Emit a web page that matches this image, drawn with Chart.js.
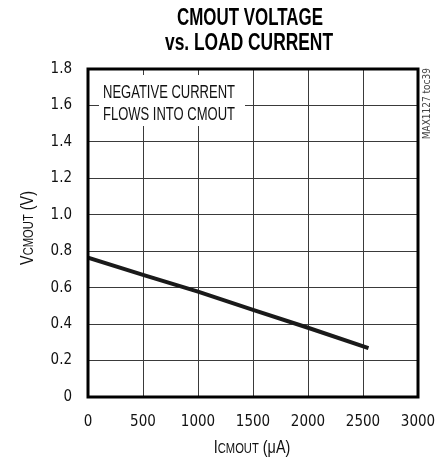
<!DOCTYPE html>
<html>
<head>
<meta charset="utf-8">
<script src="https://cdn.jsdelivr.net/npm/chart.js@4"></script>
<style>
  html, body { margin: 0; padding: 0; background: #fff; }
  #wrap { width: 447px; height: 458px; }
</style>
</head>
<body>
<div id="wrap"><canvas id="myChart" width="447" height="458"></canvas></div>
<script>
// load current (uA) and CMOUT voltage (V)
const loadCurrent = [0, 500, 1000, 1500, 2000, 2550];
const cmoutVolts = [0.765, 0.67, 0.578, 0.478, 0.38, 0.268];
const titleLines = ["CMOUT VOLTAGE", "vs. LOAD CURRENT"];
const noteLines = ["NEGATIVE CURRENT", "FLOWS INTO CMOUT"];

const SANS = "'Liberation Sans', Arial, sans-serif";
const COND = "'DejaVu Sans Condensed', 'Liberation Sans', sans-serif";
const SQUEEZE = 0.8;   // fake a narrow face by squashing x

// squashed text centred on x
let narrowText = function(ctx, text, x, y, font, width){
    ctx.font = font;
    let w = ctx.measureText(text).width;
    let sx = width ? width / w : SQUEEZE;
    ctx.save();
    ctx.translate(x, y);
    ctx.scale(sx, 1);
    ctx.textAlign = "center";
    ctx.textBaseline = "alphabetic";
    ctx.fillText(text, 0, 0);
    ctx.restore();
};

// run of text pieces of different sizes, squashed, centred on x
let drawPieces = function(ctx, pieces, x, y){
    let total = 0;
    pieces.forEach(p => { ctx.font = p.size + "px " + SANS; total += ctx.measureText(p.text).width; });
    ctx.save();
    ctx.translate(x, y);
    ctx.scale(SQUEEZE, 1);
    let cx = -total / 2;
    ctx.textAlign = "left";
    ctx.textBaseline = "alphabetic";
    pieces.forEach(p => {
        ctx.font = p.size + "px " + SANS;
        ctx.fillText(p.text, cx, 0);
        cx += ctx.measureText(p.text).width;
    });
    ctx.restore();
};

const decor = {
    id: "decor",
    beforeDatasetsDraw(chart){
        const ctx = chart.ctx;
        // white box behind the note
        ctx.save();
        ctx.fillStyle = "#fff";
        ctx.fillRect(99, 75, 146, 51);
        ctx.fillStyle = "#111";
        narrowText(ctx, noteLines[0], 169, 98, "18px " + SANS, 132);
        narrowText(ctx, noteLines[1], 169, 120, "18px " + SANS, 132);
        ctx.restore();
    },
    afterDraw(chart){
        const ctx = chart.ctx;
        const a = chart.chartArea;
        ctx.save();
        // heavy frame
        ctx.strokeStyle = "#000";
        ctx.lineWidth = 3;
        ctx.strokeRect(a.left, a.top, a.right - a.left, a.bottom - a.top);

        // title
        ctx.fillStyle = "#000";
        narrowText(ctx, titleLines[0], 250, 25, "bold 23px " + SANS, 146);
        narrowText(ctx, titleLines[1], 249, 50, "bold 23px " + SANS, 168);

        // axis titles with small-caps subscripts
        ctx.fillStyle = "#111";
        drawPieces(ctx, [{text: "I", size: 18}, {text: "CMOUT", size: 14}, {text: " (\u03bcA)", size: 18}], 252, 453);
        ctx.save();
        ctx.translate(33, 228);
        ctx.rotate(-Math.PI / 2);
        drawPieces(ctx, [{text: "V", size: 18}, {text: "CMOUT", size: 14}, {text: " (V)", size: 18}], 0, 0);
        ctx.restore();

        // side tag
        ctx.save();
        ctx.translate(430, 68);
        ctx.rotate(-Math.PI / 2);
        ctx.fillStyle = "#444";
        ctx.font = "10px " + COND;
        ctx.textAlign = "right";
        ctx.fillText("MAX1127 toc39", 0, 0);
        ctx.restore();
        ctx.restore();
    }
};

let ctx = document.getElementById('myChart').getContext('2d');
let chart = new Chart(ctx, {
    type: 'line',
    data: {
        datasets: [{
            data: loadCurrent.map((x, k) => ({x: x, y: cmoutVolts[k]})),
            borderColor: '#1a1a1a',
            borderWidth: 4,
            pointRadius: 0,
            tension: 0
        }]
    },
    options: {
        responsive: false,
        animation: false,
        layout: {padding: {top: 69, right: 29, left: 0, bottom: 0}},
        plugins: {legend: {display: false}, tooltip: {enabled: false}},
        scales: {
            x: {
                type: 'linear', min: 0, max: 3000,
                afterFit: s => { s.height = 61; s.paddingLeft = 0; s.paddingRight = 0; },
                border: {display: false},
                grid: {color: '#3a3a3a', lineWidth: 1, drawTicks: false},
                ticks: {
                    stepSize: 500, padding: 16, color: '#111', font: {family: COND, size: 15}, maxRotation: 0,
                    callback: v => String(v)
                }
            },
            y: {
                min: 0, max: 1.8,
                afterFit: s => { s.width = 88; s.paddingTop = 0; s.paddingBottom = 0; },
                border: {display: false},
                grid: {color: '#3a3a3a', lineWidth: 1, drawTicks: false},
                ticks: {
                    stepSize: 0.2, padding: 16, color: '#111', font: {family: COND, size: 15},
                    callback: v => v == 0 ? "0" : v.toFixed(1)
                }
            }
        }
    },
    plugins: [decor]
});
</script>
</body>
</html>
